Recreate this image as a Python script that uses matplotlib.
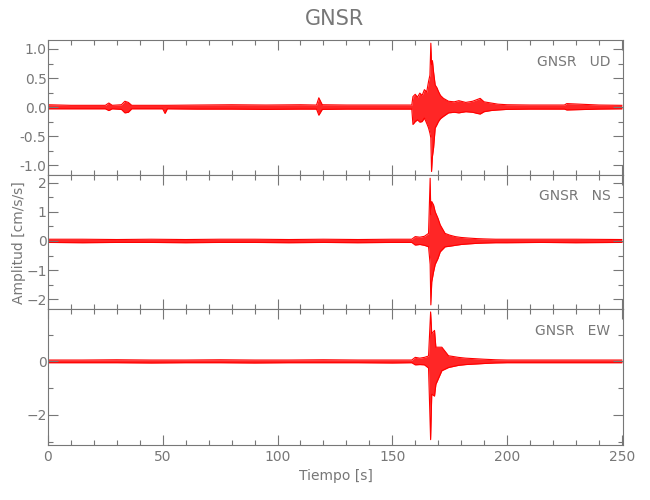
import numpy as np
import matplotlib.pyplot as plt
from matplotlib.ticker import MultipleLocator

station = "GNSR"
components = ["UD", "NS", "EW"]

# envelope of each trace: time [s], upper and lower amplitude [cm/s/s]
t_ud = [0, 10, 20, 25, 26.5, 28, 32, 33.5, 35, 36.5, 40, 50, 51, 52, 65, 80, 95, 110, 117, 118, 119.5,
        130, 145, 155, 158.5, 159, 160, 161, 162, 163, 164, 165, 165.8, 166.4, 166.8, 167.1, 167.5,
        168, 168.7, 169.5, 170.1, 171, 172.3, 174.5, 177, 179, 182, 185, 187, 188.3, 190, 193, 196,
        200, 210, 225, 226, 240, 250]
up_ud = [0.04, 0.03, 0.03, 0.03, 0.07, 0.03, 0.04, 0.10, 0.08, 0.03, 0.03, 0.03, 0.03, 0.03, 0.035, 0.04,
         0.035, 0.04, 0.035, 0.16, 0.04, 0.035, 0.035, 0.035, 0.035, 0.18, 0.22, 0.17, 0.24, 0.20, 0.30,
         0.26, 0.44, 0.55, 1.10, 0.73, 0.80, 0.60, 0.38, 0.33, 0.27, 0.20, 0.15, 0.10, 0.09, 0.11, 0.08,
         0.10, 0.13, 0.15, 0.09, 0.07, 0.05, 0.04, 0.035, 0.035, 0.06, 0.035, 0.03]
lo_ud = [-0.03, -0.03, -0.03, -0.03, -0.06, -0.03, -0.04, -0.10, -0.09, -0.03, -0.03, -0.03, -0.11, -0.03,
         -0.035, -0.035, -0.04, -0.035, -0.035, -0.14, -0.04, -0.035, -0.035, -0.035, -0.035, -0.30,
         -0.25, -0.22, -0.26, -0.25, -0.19, -0.28, -0.36, -0.45, -0.53, -1.11, -0.85, -0.70, -0.36,
         -0.30, -0.25, -0.20, -0.16, -0.10, -0.09, -0.10, -0.08, -0.09, -0.11, -0.12, -0.08, -0.06,
         -0.05, -0.04, -0.035, -0.035, -0.05, -0.035, -0.03]

t_ns = [0, 15, 30, 45, 60, 75, 90, 105, 120, 135, 150, 158.5, 160, 162, 164, 165.8, 166.5, 166.8, 167.2,
        168, 168.7, 169.9, 170.9, 173, 175, 177.4, 180, 183.2, 187, 190.4, 195, 200, 215, 230, 250]
up_ns = [0.06, 0.06, 0.05, 0.06, 0.05, 0.06, 0.06, 0.05, 0.06, 0.05, 0.06, 0.06, 0.15, 0.13, 0.16, 0.26,
         2.15, 0.90, 1.35, 1.23, 1.00, 0.78, 0.55, 0.26, 0.20, 0.15, 0.12, 0.10, 0.08, 0.07, 0.06, 0.06,
         0.06, 0.06, 0.05]
lo_ns = [-0.05, -0.06, -0.05, -0.05, -0.06, -0.05, -0.05, -0.06, -0.05, -0.06, -0.05, -0.05, -0.14, -0.12,
         -0.15, -0.20, -0.80, -2.19, -1.40, -1.05, -0.80, -0.60, -0.37, -0.20, -0.18, -0.15, -0.12,
         -0.10, -0.08, -0.07, -0.06, -0.06, -0.05, -0.06, -0.05]

t_ew = [0, 15, 30, 45, 60, 75, 90, 105, 120, 135, 150, 158.5, 160, 162, 164, 165.8, 166.7, 167.2, 168.4,
        169, 171.6, 174.5, 178.8, 182, 186, 190, 195, 200, 215, 230, 250]
up_ew = [0.05, 0.05, 0.06, 0.05, 0.05, 0.06, 0.05, 0.05, 0.06, 0.05, 0.05, 0.05, 0.15, 0.12, 0.15, 0.20,
         1.85, 1.03, 1.16, 0.53, 0.53, 0.21, 0.15, 0.12, 0.10, 0.08, 0.06, 0.05, 0.05, 0.05, 0.05]
lo_ew = [-0.05, -0.05, -0.05, -0.06, -0.05, -0.05, -0.06, -0.05, -0.05, -0.05, -0.06, -0.05, -0.13, -0.12,
         -0.13, -0.25, -2.93, -1.23, -1.30, -0.86, -0.35, -0.23, -0.15, -0.12, -0.10, -0.08, -0.06,
         -0.05, -0.05, -0.05, -0.05]

traces = [(t_ud, up_ud, lo_ud), (t_ns, up_ns, lo_ns), (t_ew, up_ew, lo_ew)]
ylims = [(-1.17, 1.155), (-2.33, 2.26), (-3.13, 1.96)]
ymajor = [0.5, 1, 2]
yminor = [0.25, 0.5, 1]

gray = "#777777"
plt.rcParams['font.family'] = ['Liberation Sans Narrow', 'DejaVu Sans']
plt.rcParams['font.size'] = 10

fig = plt.figure(figsize=(6.5, 5), dpi=100)
left, width = 0.0738, 0.8846
bottoms = [0.65, 0.382, 0.11]
heights = [0.27, 0.268, 0.272]

axes = []
for i, (t, up, lo) in enumerate(traces):
    ax = fig.add_axes([left, bottoms[i], width, heights[i]])
    axes.append(ax)
    ax.fill_between(t, lo, up, color="red", alpha=0.85, lw=0)
    ax.plot(t, up, color="red", lw=0.8)
    ax.plot(t, lo, color="red", lw=0.8)
    ax.set_xlim(0, 250.5)
    ax.set_ylim(*ylims[i])
    ax.xaxis.set_major_locator(MultipleLocator(50))
    ax.xaxis.set_minor_locator(MultipleLocator(10))
    ax.yaxis.set_major_locator(MultipleLocator(ymajor[i]))
    ax.yaxis.set_minor_locator(MultipleLocator(yminor[i]))
    ax.tick_params(which="both", direction="in", top=True, right=True, colors=gray, width=0.8)
    ax.tick_params(which="major", length=7)
    ax.tick_params(which="minor", length=3.5)
    ax.tick_params(axis="y", pad=1)
    for s in ax.spines.values():
        s.set_color(gray)
        s.set_linewidth(0.8)
    if i < 2:
        ax.tick_params(labelbottom=False)
    ax.text(0.978, 0.84, f"{station}   {components[i]}", transform=ax.transAxes,
            ha="right", va="center", color=gray)

axes[0].yaxis.set_major_formatter(plt.FormatStrFormatter("%.1f"))
axes[2].set_xlabel("Tiempo [s]", color=gray, labelpad=4)
fig.text(0.03, 0.515, "Amplitud [cm/s/s]", rotation=90, ha="center", va="center", color=gray)
fig.text(0.515, 0.962, station, ha="center", va="center", color=gray, fontsize=15)

fig.savefig("out.png", dpi=100)
